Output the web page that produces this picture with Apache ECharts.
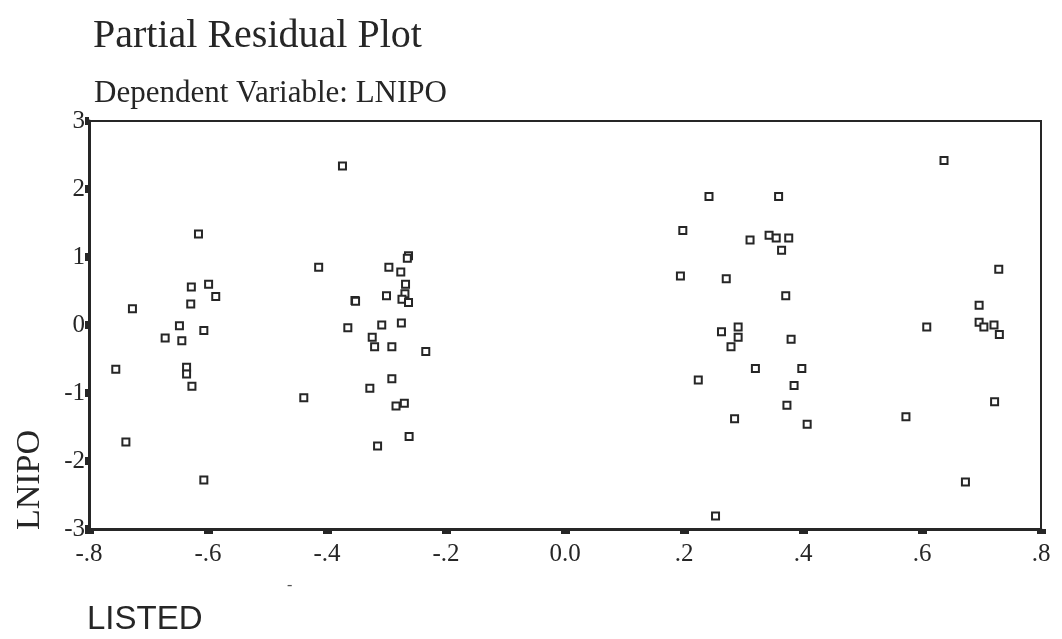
<!DOCTYPE html>
<html>
<head>
<meta charset="utf-8">
<script src="https://cdn.jsdelivr.net/npm/echarts@6/dist/echarts.min.js"></script>
<style>
  html, body { margin: 0; padding: 0; background: #fff; }
  #chart { width: 1062px; height: 639px; }
</style>
</head>
<body>
<div id="chart"></div>
<script>
// LISTED (partial residual) and LNIPO (partial residual) pairs
const listed = [
  -0.374, -0.616, -0.414, -0.628, -0.599, -0.587, -0.629, -0.727, -0.353,
  -0.648, -0.672, -0.644, -0.607, -0.755, -0.636, -0.636, -0.627, -0.439,
  -0.738, -0.607, -0.365,
  -0.263, -0.265, -0.296, -0.276, -0.268, -0.300, -0.352, -0.269, -0.274,
  -0.263, -0.308, -0.275, -0.324, -0.320, -0.291, -0.234, -0.291, -0.328,
  -0.284, -0.270, -0.262, -0.315,
  0.242, 0.359, 0.198, 0.311, 0.343, 0.355, 0.376, 0.364, 0.194, 0.271,
  0.371, 0.291, 0.263, 0.291, 0.279, 0.380, 0.320, 0.398, 0.224, 0.385,
  0.373, 0.285, 0.407, 0.253,
  0.637, 0.729, 0.696, 0.696, 0.704, 0.721, 0.730, 0.608, 0.722, 0.573,
  0.673
];
const lnipo = [
  2.34, 1.34, 0.85, 0.56, 0.60, 0.42, 0.31, 0.24, 0.36,
  -0.01, -0.19, -0.23, -0.08, -0.65, -0.62, -0.72, -0.90, -1.07,
  -1.72, -2.28, -0.04,
  1.02, 0.98, 0.85, 0.78, 0.60, 0.43, 0.35, 0.46, 0.38,
  0.33, 0.00, 0.03, -0.18, -0.32, -0.32, -0.39, -0.79, -0.93,
  -1.19, -1.15, -1.64, -1.78,
  1.89, 1.89, 1.39, 1.25, 1.32, 1.28, 1.28, 1.10, 0.72, 0.68,
  0.43, -0.03, -0.10, -0.18, -0.32, -0.21, -0.64, -0.64, -0.81, -0.89,
  -1.18, -1.38, -1.46, -2.81,
  2.42, 0.82, 0.29, 0.04, -0.03, 0.00, -0.14, -0.03, -1.13, -1.35,
  -2.31
];
const xTickLabels = { '-0.8': '-.8', '-0.6': '-.6', '-0.4': '-.4', '-0.2': '-.2',
  '0': '0.0', '0.2': '.2', '0.4': '.4', '0.6': '.6', '0.8': '.8' };
const titleText = 'Partial Residual Plot';
const subtitleText = 'Dependent Variable: LNIPO';
const xName = 'LISTED';
const yName = 'LNIPO';

const points = listed.map((x, i) => [x, lnipo[i]]);
const ink = '#262626';
const serif = '"Liberation Serif", "DejaVu Serif", serif';

const chart = echarts.init(document.getElementById('chart'));
chart.setOption({
  backgroundColor: '#ffffff',
  animation: false,
  title: [
    { text: titleText, left: 88, top: 11,
      textStyle: { fontFamily: serif, fontSize: 40, fontWeight: 'normal', color: ink } },
    { text: subtitleText, left: 89, top: 73,
      textStyle: { fontFamily: serif, fontSize: 31, fontWeight: 'normal', color: ink } }
  ],
  grid: { left: 89, right: 21, top: 121, bottom: 110,
          show: true, borderColor: ink, borderWidth: 2, backgroundColor: 'transparent' },
  xAxis: {
    type: 'value', min: -0.8, max: 0.8, interval: 0.2,
    splitLine: { show: false },
    axisLine: { show: true, onZero: false, lineStyle: { color: ink, width: 3 } },
    axisTick: { show: true, inside: false, length: 5, lineStyle: { color: ink, width: 9 } },
    axisLabel: {
      margin: 13, fontFamily: serif, fontSize: 25, color: ink,
      formatter: v => xTickLabels[String(Math.round(v * 10) / 10)] || ''
    }
  },
  yAxis: {
    type: 'value', min: -3, max: 3, interval: 1,
    splitLine: { show: false },
    axisLine: { show: true, onZero: false, lineStyle: { color: ink, width: 3 } },
    axisTick: { show: true, inside: false, length: 4, lineStyle: { color: ink, width: 8 } },
    axisLabel: { margin: 4, fontFamily: serif, fontSize: 25, color: ink }
  },
  graphic: [
    { type: 'text', left: 13, top: 430, rotation: Math.PI / 2,
      style: { text: yName, font: '34px ' + serif, fill: ink },
      originX: 0, originY: 0 },
    { type: 'text', left: 87, top: 603,
      style: { text: xName, font: '33px "Liberation Sans", Arial, sans-serif', fill: ink } },
    { type: 'text', left: 287, top: 578,
      style: { text: '-', font: '16px ' + serif, fill: '#555' } }
  ],
  series: [{
    type: 'scatter',
    data: points,
    symbol: 'rect',
    symbolSize: 7,
    itemStyle: { color: '#ffffff', borderColor: ink, borderWidth: 2, opacity: 1 }
  }]
});
</script>
</body>
</html>
